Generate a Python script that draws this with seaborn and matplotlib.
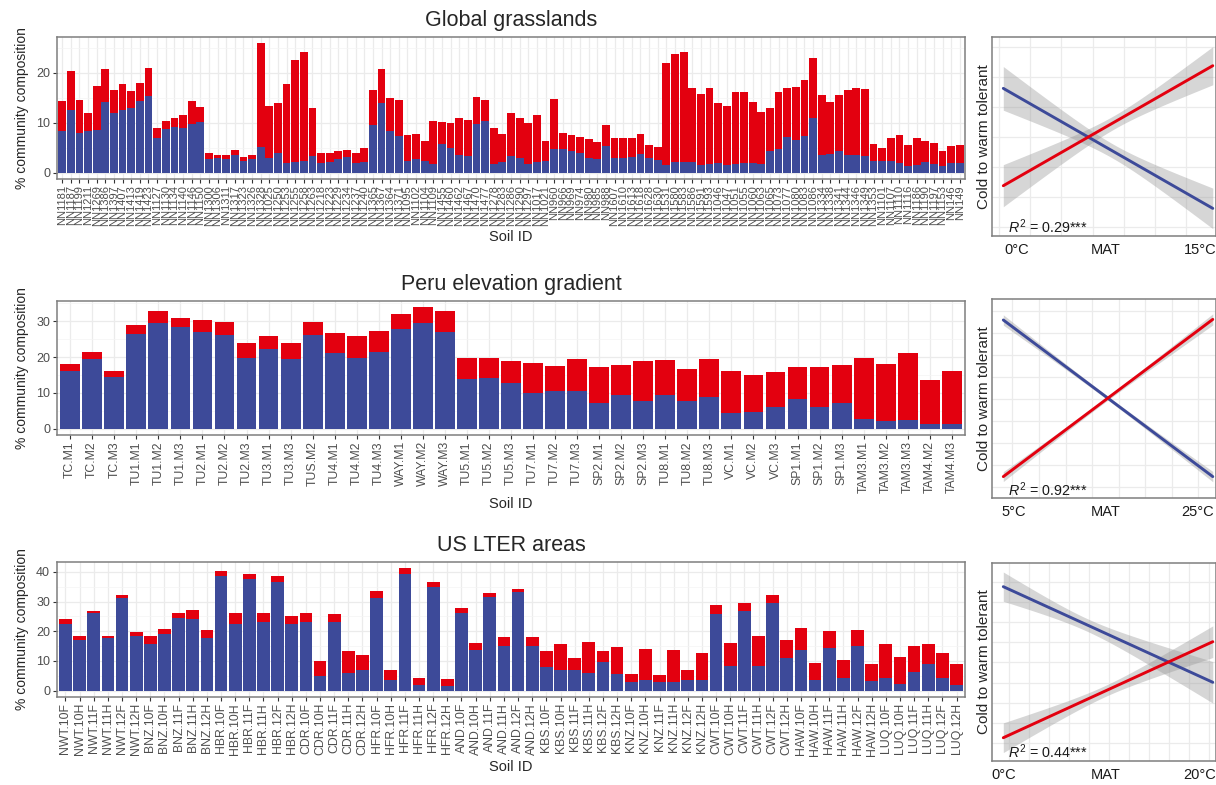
import numpy as np
import pandas as pd
import matplotlib
matplotlib.use("Agg")
import matplotlib.pyplot as plt
from matplotlib.ticker import MultipleLocator
import seaborn as sns

sns.set_style("white")
plt.rcParams["font.family"] = ["Liberation Sans", "DejaVu Sans"]
plt.rcParams["mathtext.fontset"] = "custom"
plt.rcParams["mathtext.it"] = "Liberation Sans:italic"
plt.rcParams["mathtext.rm"] = "Liberation Sans"

RED = "#E3000F"
BLUE = "#3D4A99"
GRID = "#EBEBEB"
BORDER = "#7F7F7F"
TICKTXT = "#4D4D4D"

# ---------------- Global grasslands ----------------
grass_ids = [
    "NN1181", "NN1187", "NN1199", "NN1211", "NN1269", "NN1386", "NN1397", "NN1407", "NN1413", "NN1419",
    "NN1423", "NN1127", "NN1130", "NN1134", "NN1140", "NN1146", "NN1150", "NN1300", "NN1306", "NN1311",
    "NN1317", "NN1323", "NN1326", "NN1328", "NN1025", "NN1250", "NN1253", "NN1255", "NN1258", "NN1263",
    "NN1218", "NN1223", "NN1229", "NN1234", "NN1237", "NN1240", "NN1365", "NN1367", "NN1364", "NN1371",
    "NN1095", "NN1102", "NN1104", "NN1109", "NN1455", "NN1460", "NN1462", "NN1467", "NN1470", "NN1477",
    "NN1278", "NN1283", "NN1286", "NN1290", "NN1297", "NN1017", "NN1021", "NN960", "NN966", "NN969",
    "NN974", "NN980", "NN985", "NN988", "NN1607", "NN1610", "NN1613", "NN1618", "NN1628", "NN1630",
    "NN1531", "NN1580", "NN1583", "NN1586", "NN1591", "NN1593", "NN1046", "NN1047", "NN1051", "NN1055",
    "NN1060", "NN1063", "NN1065", "NN1073", "NN1077", "NN1080", "NN1083", "NN1086", "NN1334", "NN1338",
    "NN1341", "NN1344", "NN1346", "NN1349", "NN1353", "NN1101", "NN1107", "NN1110", "NN1116", "NN1186",
    "NN1190", "NN1197", "NN1153", "NN146", "NN149",
]
grass_total = [
    14.3, 20.3, 14.5, 11.9, 17.3, 20.7, 16.5, 17.7, 16.3, 17.9,
    20.9, 8.9, 10.3, 10.9, 11.5, 14.3, 13.1, 3.9, 3.5, 3.5,
    4.5, 3.1, 3.5, 25.9, 13.3, 13.9, 17.7, 22.5, 24.1, 12.9,
    3.9, 3.9, 4.3, 4.5, 3.9, 4.9, 16.5, 20.7, 14.9, 14.5,
    7.5, 7.7, 6.3, 10.3, 10.1, 9.9, 10.9, 10.5, 15.1, 14.5,
    8.9, 7.7, 11.9, 10.9, 9.9, 11.5, 6.3, 14.7, 7.9, 7.5,
    7.1, 6.7, 6.1, 9.5, 6.9, 6.9, 6.9, 7.7, 5.5, 5.1,
    21.9, 23.7, 24.1, 16.9, 15.7, 16.9, 13.9, 13.3, 16.1, 16.1,
    14.1, 12.1, 12.9, 16.1, 16.9, 17.1, 18.5, 22.9, 15.5, 14.1,
    15.5, 16.5, 16.9, 16.7, 5.7, 4.9, 6.9, 7.5, 5.5, 6.9,
    6.3, 5.9, 4.3, 5.3, 5.5,
]
grass_cold = [
    8.3, 12.5, 7.9, 8.3, 8.5, 14.1, 11.9, 12.5, 12.9, 14.3,
    15.3, 6.9, 8.7, 9.1, 8.9, 9.7, 10.1, 2.7, 2.9, 2.7,
    3.5, 2.3, 2.7, 5.1, 2.9, 3.9, 1.9, 2.1, 2.3, 3.3,
    1.9, 2.1, 2.7, 3.1, 1.9, 2.1, 9.5, 13.9, 8.3, 7.3,
    2.3, 2.7, 2.3, 1.7, 5.7, 4.9, 3.5, 3.3, 9.7, 10.3,
    1.7, 2.1, 3.3, 2.9, 1.7, 2.1, 2.3, 4.7, 4.7, 4.3,
    3.9, 2.9, 2.7, 5.3, 2.9, 2.9, 3.1, 3.7, 2.9, 2.5,
    1.5, 2.1, 2.1, 2.1, 1.5, 1.7, 1.9, 1.5, 1.7, 1.9,
    1.9, 1.7, 4.3, 4.7, 7.1, 6.5, 7.3, 10.9, 3.5, 3.7,
    4.3, 3.5, 3.5, 3.3, 2.3, 2.3, 2.3, 1.9, 1.3, 1.5,
    2.1, 1.7, 1.3, 1.9, 1.9,
]

# ---------------- Peru elevation gradient ----------------
peru_ids = [
    "TC.M1", "TC.M2", "TC.M3", "TU1.M1", "TU1.M2", "TU1.M3", "TU2.M1", "TU2.M2", "TU2.M3", "TU3.M1",
    "TU3.M3", "TUS.M2", "TU4.M1", "TU4.M2", "TU4.M3", "WAY.M1", "WAY.M2", "WAY.M3", "TU5.M1", "TU5.M2",
    "TU5.M3", "TU7.M1", "TU7.M2", "TU7.M3", "SP2.M1", "SP2.M2", "SP2.M3", "TU8.M1", "TU8.M2", "TU8.M3",
    "VC.M1", "VC.M2", "VC.M3", "SP1.M1", "SP1.M2", "SP1.M3", "TAM3.M1", "TAM3.M2", "TAM3.M3", "TAM4.M2",
    "TAM4.M3",
]
peru_total = [
    18.1, 21.4, 16.2, 28.8, 32.7, 31.0, 30.2, 29.9, 23.9, 25.8,
    23.9, 29.9, 26.6, 25.8, 27.2, 32.1, 34.0, 32.7, 19.7, 19.7,
    18.9, 18.4, 17.5, 19.5, 17.3, 17.8, 18.9, 19.2, 16.7, 19.5,
    16.2, 15.1, 15.9, 17.3, 17.3, 17.8, 19.7, 18.1, 21.1, 13.7,
    16.2,
]
peru_cold = [
    16.0, 19.5, 14.5, 26.4, 29.4, 28.3, 27.0, 26.1, 19.8, 22.2,
    19.5, 26.1, 21.1, 19.8, 21.5, 27.7, 29.4, 27.0, 13.8, 14.3,
    12.8, 10.1, 10.5, 10.6, 7.2, 9.4, 7.9, 9.5, 7.7, 8.8,
    4.4, 4.6, 6.2, 8.3, 6.1, 7.3, 2.8, 2.2, 2.4, 1.3,
    1.3,
]

# ---------------- US LTER areas ----------------
lter_ids = [
    "NWT.10F", "NWT.10H", "NWT.11F", "NWT.11H", "NWT.12F", "NWT.12H",
    "BNZ.10F", "BNZ.10H", "BNZ.11F", "BNZ.11H", "BNZ.12H",
    "HBR.10F", "HBR.10H", "HBR.11F", "HBR.11H", "HBR.12F", "HBR.12H",
    "CDR.10F", "CDR.10H", "CDR.11F", "CDR.11H", "CDR.12H",
    "HFR.10F", "HFR.10H", "HFR.11F", "HFR.11H", "HFR.12F", "HFR.12H",
    "AND.10F", "AND.10H", "AND.11F", "AND.11H", "AND.12F", "AND.12H",
    "KBS.10F", "KBS.10H", "KBS.11F", "KBS.11H", "KBS.12F", "KBS.12H",
    "KNZ.10F", "KNZ.10H", "KNZ.11F", "KNZ.11H", "KNZ.12F", "KNZ.12H",
    "CWT.10F", "CWT.10H", "CWT.11F", "CWT.11H", "CWT.12F", "CWT.12H",
    "HAW.10F", "HAW.10H", "HAW.11F", "HAW.11H", "HAW.12F", "HAW.12H",
    "LUQ.10F", "LUQ.10H", "LUQ.11F", "LUQ.11H", "LUQ.12F", "LUQ.12H",
]
lter_total = [
    24.0, 18.5, 27.0, 18.5, 32.4, 19.6,
    18.5, 20.9, 26.0, 27.3, 20.6,
    40.2, 26.0, 39.2, 26.0, 38.5, 25.3,
    26.0, 10.1, 25.7, 13.5, 12.1,
    33.5, 7.0, 41.2, 4.3, 36.5, 4.0,
    28.0, 16.2, 32.8, 18.2, 34.1, 18.2,
    13.5, 15.8, 11.1, 16.5, 13.5, 14.8,
    5.7, 14.1, 5.3, 13.8, 7.0, 12.8,
    29.0, 16.2, 29.4, 18.5, 32.1, 17.2,
    21.2, 9.4, 20.2, 10.4, 20.6, 9.0,
    15.8, 11.4, 15.1, 15.8, 12.8, 9.0,
]
lter_cold = [
    22.4, 17.2, 26.0, 17.6, 31.2, 18.3,
    15.8, 19.2, 24.4, 24.0, 17.9,
    38.6, 22.4, 37.5, 23.1, 36.6, 22.4,
    23.1, 5.0, 23.1, 6.1, 6.8,
    31.2, 3.6, 39.3, 2.0, 34.8, 1.6,
    26.0, 13.8, 31.4, 15.1, 33.2, 15.1,
    8.1, 7.0, 7.0, 6.1, 9.7, 5.6,
    2.9, 3.6, 2.9, 2.9, 3.6, 3.6,
    25.8, 8.4, 26.7, 8.4, 29.4, 11.1,
    13.6, 3.6, 14.2, 4.3, 15.1, 3.4,
    4.3, 2.3, 6.3, 9.0, 4.3, 2.0,
]

# ---------------- Tolerance vs. mean annual temperature fits ----------------
# MAT span of each fit (deg C), fitted scores at both ends (scaled 0-1),
# CI half-widths (left end, narrowest, right end) and model R^2
grass_mat = [-1.1, 16.0]
grass_cold_fit = [0.743, 0.139]
grass_warm_fit = [0.253, 0.857]
grass_cold_ci = [0.110, 0.036, 0.102]
grass_warm_ci = [0.106, 0.034, 0.096]
grass_temp_ticks = [0, 15]
grass_r2 = "0.29"

peru_mat = [3.9, 26.7]
peru_cold_fit = [0.896, 0.109]
peru_warm_fit = [0.109, 0.899]
peru_cold_ci = [0.026, 0.010, 0.026]
peru_warm_ci = [0.025, 0.010, 0.028]
peru_temp_ticks = [5, 25]
peru_r2 = "0.92"

lter_mat = [0.0, 21.3]
lter_cold_fit = [0.879, 0.396]
lter_warm_fit = [0.116, 0.601]
lter_cold_ci = [0.074, 0.032, 0.105]
lter_warm_ci = [0.075, 0.028, 0.080]
lter_temp_ticks = [0, 20]
lter_r2 = "0.44"


def style_frame(ax):
    for s in ax.spines.values():
        s.set_edgecolor(BORDER)
        s.set_linewidth(1.1)


def stacked_bars(ax, ids, total, cold, ymax_tick, title, label_size):
    df = pd.DataFrame({"soil": ids, "total": total, "cold": cold})
    sns.barplot(data=df, x="soil", y="total", color=RED, saturation=1,
                width=0.9, linewidth=0, errorbar=None, ax=ax, zorder=2)
    sns.barplot(data=df, x="soil", y="cold", color=BLUE, saturation=1,
                width=0.9, linewidth=0, errorbar=None, ax=ax, zorder=3)
    n = len(ids)
    top = max(total)
    ax.set_xlim(-0.6, n - 0.4)
    ax.set_ylim(-0.05 * top, 1.05 * top)
    ax.set_yticks(np.arange(0, ymax_tick + 1, 10))
    ax.yaxis.set_minor_locator(MultipleLocator(5))
    ax.set_axisbelow(True)
    ax.grid(which="major", color=GRID, linewidth=0.9)
    ax.grid(which="minor", axis="y", color="#F4F4F4", linewidth=0.5)
    ax.tick_params(axis="x", labelrotation=90, labelsize=label_size, pad=1.5)
    ax.tick_params(axis="y", labelsize=9, pad=2)
    ax.tick_params(which="major", length=3, width=0.8, color="#333333",
                   labelcolor=TICKTXT, bottom=True, left=True)
    ax.tick_params(which="minor", length=0)
    ax.set_xlabel("Soil ID", fontsize=10.5, labelpad=3)
    ax.set_ylabel("% community composition", fontsize=10, labelpad=5)
    ax.set_title(title, fontsize=15.5, pad=8)
    style_frame(ax)


def ci_halfwidth(x, lo, hi, ci):
    left, narrow, right = ci
    dl = np.sqrt(left ** 2 - narrow ** 2)
    dr = np.sqrt(right ** 2 - narrow ** 2)
    xc = lo + (hi - lo) * dl / (dl + dr)
    b = (dl + dr) / (hi - lo)
    return np.sqrt(narrow ** 2 + (b * (x - xc)) ** 2)


def mat_panel(ax, mat, cold_fit, warm_fit, cold_ci, warm_ci, temp_ticks, r2,
              xgrid, ygrid):
    lo, hi = mat
    span = hi - lo
    x0, x1 = lo - 0.0525 * span, hi + 0.013 * span
    ax.set_xlim(x0, x1)
    ax.set_ylim(0, 1)
    # light background grid
    for f in xgrid:
        ax.axvline(x0 + f * (x1 - x0), color=GRID, linewidth=0.9, zorder=0)
    for f in ygrid:
        ax.axhline(f, color=GRID, linewidth=0.9, zorder=0)

    xs = np.linspace(lo, hi, 200)
    fits = {}
    for name, fit, ci in [("cold", cold_fit, cold_ci), ("warm", warm_fit, warm_ci)]:
        yfit = fit[0] + (fit[1] - fit[0]) * (xs - lo) / span
        hw = ci_halfwidth(xs, lo, hi, ci)
        ax.fill_between(xs, yfit - hw, yfit + hw, color="#999999", alpha=0.4,
                        linewidth=0, zorder=1)
        fits[name] = fit
    df = pd.DataFrame({
        "MAT": [lo, hi, lo, hi],
        "score": fits["cold"] + fits["warm"],
        "group": ["cold", "cold", "warm", "warm"],
    })
    sns.lineplot(data=df, x="MAT", y="score", hue="group",
                 palette={"cold": BLUE, "warm": RED}, linewidth=2.1,
                 legend=False, ax=ax, zorder=3)

    ax.set_xticks(temp_ticks)
    ax.set_xticklabels([f"{t}\u00b0C" for t in temp_ticks])
    ax.set_yticks([])
    ax.tick_params(axis="x", length=0, labelsize=10.5, pad=5, labelcolor="#1A1A1A")
    ax.annotate("MAT", xy=(0.51, 0), xycoords="axes fraction", xytext=(0, -5),
                textcoords="offset points", ha="center", va="top",
                fontsize=10.5, color="#1A1A1A")
    ax.grid(False)
    ax.set_xlabel("")
    ax.set_ylabel("Cold to warm tolerant", fontsize=11, labelpad=1)
    ax.text(0.07, 0.045, r"$R^2$" + f" = {r2}***", transform=ax.transAxes,
            ha="left", va="center", fontsize=10.3, color="#1A1A1A")
    style_frame(ax)


fig = plt.figure(figsize=(12.16, 7.85), dpi=100)
W, H = 1216, 785


def rect(x_left, y_top, x_right, y_bottom):
    return [x_left / W, 1 - y_bottom / H, (x_right - x_left) / W, (y_bottom - y_top) / H]


ax1 = fig.add_axes(rect(57, 37, 965, 179))
ax2 = fig.add_axes(rect(57, 300.7, 965, 435))
ax3 = fig.add_axes(rect(57, 562.3, 965, 696.7))
ax4 = fig.add_axes(rect(992.3, 37.3, 1215.5, 236))
ax5 = fig.add_axes(rect(992.3, 299.3, 1215.5, 498.3))
ax6 = fig.add_axes(rect(992.3, 562.7, 1215.5, 760.7))

stacked_bars(ax1, grass_ids, grass_total, grass_cold, 20, "Global grasslands", 8)
stacked_bars(ax2, peru_ids, peru_total, peru_cold, 30, "Peru elevation gradient", 8.8)
stacked_bars(ax3, lter_ids, lter_total, lter_cold, 40, "US LTER areas", 8.8)

mat_panel(ax4, grass_mat, grass_cold_fit, grass_warm_fit, grass_cold_ci, grass_warm_ci,
          grass_temp_ticks, grass_r2,
          xgrid=np.arange(0.031, 0.95, 0.1395), ygrid=np.arange(0.044, 1.0, 0.151))
mat_panel(ax5, peru_mat, peru_cold_fit, peru_warm_fit, peru_cold_ci, peru_warm_ci,
          peru_temp_ticks, peru_r2,
          xgrid=np.arange(0.09, 0.95, 0.119), ygrid=np.arange(0.059, 1.0, 0.1105))
mat_panel(ax6, lter_mat, lter_cold_fit, lter_warm_fit, lter_cold_ci, lter_warm_ci,
          lter_temp_ticks, lter_r2,
          xgrid=np.arange(0.076, 0.99, 0.0896), ygrid=np.arange(0.088, 1.0, 0.102))

fig.savefig("out.png", dpi=100, facecolor="white")
